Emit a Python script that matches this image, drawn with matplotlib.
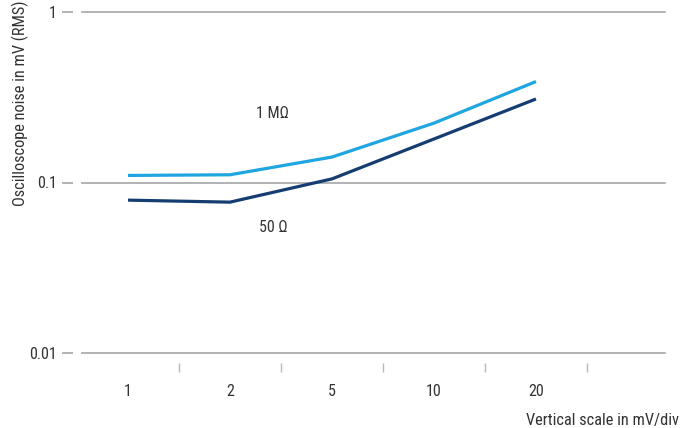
import matplotlib
matplotlib.use("Agg")
import matplotlib.pyplot as plt
from matplotlib.ticker import FixedLocator, NullFormatter

plt.rcParams['font.family'] = ['Roboto Condensed', 'DejaVu Sans']

scales = ["1", "2", "5", "10", "20"]
noise_1mohm = [0.110, 0.111, 0.141, 0.223, 0.391]
noise_50ohm = [0.0788, 0.0767, 0.105, 0.180, 0.309]
yticks = [0.01, 0.1, 1]
ytick_labels = ["0.01", "0.1", "1"]

W, H = 683, 428
PX = 72 / 100  # points per pixel
fig = plt.figure(figsize=(W / 100, H / 100), dpi=100)
ax = fig.add_axes([82 / W, 1 - 353 / H, (665 - 82) / W, (353 - 12) / H])

xs = list(range(len(scales)))
ax.plot(xs, noise_1mohm, color="#1fa6e0", lw=2.3, solid_capstyle="butt")
ax.plot(xs, noise_50ohm, color="#163d72", lw=2.3, solid_capstyle="butt")

ax.set_yscale("log")
ax.set_ylim(0.01, 1)
ax.set_xlim(-0.451, 5.265)

for y in yticks:
    ax.axhline(y, color="#a3a6a8", lw=1.2, clip_on=False, zorder=0)

for s in ax.spines.values():
    s.set_visible(False)
ax.spines['left'].set_position(('outward', 9 * PX))
ax.spines['bottom'].set_position(('outward', 10 * PX))

ax.yaxis.set_major_locator(FixedLocator(yticks))
ax.set_yticklabels(ytick_labels)
ax.yaxis.set_minor_locator(FixedLocator([]))
ax.tick_params(axis='y', which='major', length=11 * PX, width=1.2, color="#a3a6a8",
               pad=5 * PX, labelsize=11.5, labelcolor="#333333")

ax.set_xticks(xs)
ax.set_xticklabels(scales)
ax.xaxis.set_minor_locator(FixedLocator([i + 0.5 for i in xs]))
ax.xaxis.set_minor_formatter(NullFormatter())
ax.tick_params(axis='x', which='major', length=0, pad=21 * PX, labelsize=11.5,
               labelcolor="#333333")
ax.tick_params(axis='x', which='minor', length=9 * PX, width=1.0, color="#b5b8ba")

ax.text(1.42, 0.253, "1 M\u03a9", fontsize=11.5, color="#333333", ha="center", va="center")
ax.text(1.42, 0.0546, "50 \u03a9", fontsize=11.5, color="#333333", ha="center", va="center")

fig.text(20 / W, 1 - 103 / H, "Oscilloscope noise in mV (RMS)", rotation=90,
         ha="center", va="center", fontsize=11.8, color="#333333")
fig.text(679 / W, 1 - 420 / H, "Vertical scale in mV/div", ha="right", va="center",
         fontsize=11.8, color="#333333")

fig.savefig("out.png", dpi=100)
